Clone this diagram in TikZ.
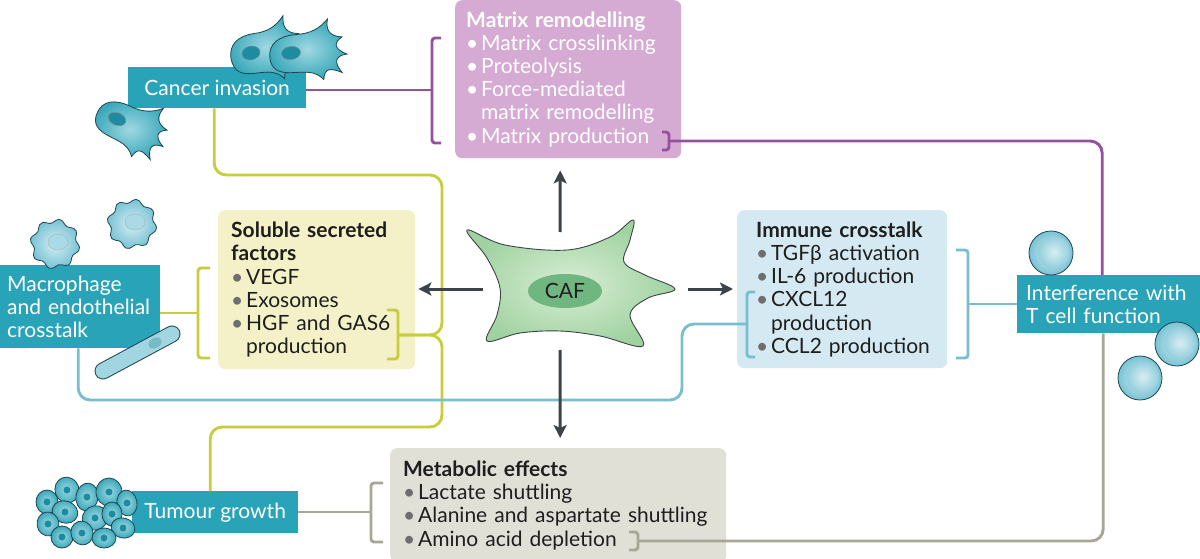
\documentclass[tikz,border=0pt]{standalone}
\usepackage{fontspec}
\setmainfont{Lato}
\usetikzlibrary{arrows.meta,shapes.geometric}

\definecolor{tealc}{RGB}{41,163,184}
\definecolor{mrfill}{RGB}{213,171,212}
\definecolor{mrline}{RGB}{150,80,160}
\definecolor{ssfill}{RGB}{244,241,200}
\definecolor{ssline}{RGB}{200,205,60}
\definecolor{icfill}{RGB}{212,233,241}
\definecolor{icline}{RGB}{120,190,206}
\definecolor{mefill}{RGB}{225,224,215}
\definecolor{meline}{RGB}{168,166,148}
\definecolor{arrcol}{RGB}{60,68,74}
\definecolor{textdark}{RGB}{30,30,30}
\definecolor{bulgray}{RGB}{110,110,110}
\definecolor{celledge}{RGB}{30,70,80}
\definecolor{cellin}{RGB}{160,216,226}
\definecolor{cellout}{RGB}{58,168,186}
\definecolor{nucc}{RGB}{30,140,160}
\definecolor{mphin}{RGB}{215,238,243}
\definecolor{mphout}{RGB}{120,195,212}
\definecolor{mphnuc}{RGB}{170,218,230}
\definecolor{cafin}{RGB}{216,238,213}
\definecolor{cafout}{RGB}{160,210,160}
\definecolor{cafnuc}{RGB}{112,182,128}
\colorlet{bulcol}{bulgray}

\newcommand{\itm}[1]{\mbox{\makebox[15pt][l]{\textcolor{bulcol}{\textbullet}}#1}}
\newcommand{\itmc}[1]{\mbox{\hspace*{15pt}#1}}
\newcommand{\hd}[1]{\mbox{\bfseries #1}}

\tikzset{
  txt/.style={font=\fontsize{21}{23.2}\selectfont},
  infobox/.style={txt, rounded corners=7pt, anchor=north west, align=left,
    inner ysep=0pt, text=textdark},
  tealbox/.style={txt, fill=tealc, text=white, anchor=north west, inner sep=0pt},
  link/.style={line width=2.9pt, rounded corners=12pt},
  brk/.style={line width=2.9pt, rounded corners=3pt},
  arr/.style={line width=3pt, arrcol, -{Stealth[length=13pt,width=13pt,inset=3pt]}},
  invcell/.pic={
    \shade[draw=celledge, line width=0.8pt, inner color=cellin, outer color=cellout]
      (-18,2) .. controls (-18,-11) and (-8,-17) .. (6,-16)
      .. controls (18,-15) and (26,-18) .. (34,-26)
      .. controls (31,-16) and (34,-10) .. (44,-8)
      .. controls (36,-4) and (36,2) .. (46,8)
      .. controls (36,8) and (34,14) .. (40,24)
      .. controls (30,18) and (26,18) .. (24,28)
      .. controls (18,19) and (10,19) .. (0,18)
      .. controls (-12,17) and (-18,13) .. (-18,2) -- cycle;
    \fill[nucc, draw=celledge!60, line width=0.5pt] (0,0) ellipse (8 and 6);
  }
}

\begin{document}
\begin{tikzpicture}[x=1pt, y=-1pt]
  \useasboundingbox (0,0) rectangle (1200,559);

  % boxes
  \node[infobox, fill=mrfill, text=white, text width=204, inner xsep=11, minimum height=158] (mr) at (455,0)
    {\colorlet{bulcol}{white}\hd{Matrix remodelling}\\ \itm{Matrix crosslinking}\\ \itm{Proteolysis}\\
     \itm{Force-mediated}\\ \itmc{matrix remodelling}\\ \itm{Matrix production}};
  \node[infobox, fill=ssfill, text width=171, inner xsep=13, minimum height=159] (ss) at (218,210)
    {\hd{Soluble secreted}\\ \hd{factors}\\ \itm{VEGF}\\ \itm{Exosomes}\\ \itm{HGF and GAS6}\\ \itmc{production}};
  \node[infobox, fill=icfill, text width=172, inner xsep=19, minimum height=158] (ic) at (737,210)
    {\hd{Immune crosstalk}\\ \itm{TGFβ activation}\\ \itm{IL-6 production}\\ \itm{CXCL12}\\
     \itmc{production}\\ \itm{CCL2 production}};
  \node[infobox, fill=mefill, text width=310, inner xsep=13, minimum height=114] (me) at (390,448)
    {\hd{Metabolic effects}\\ \itm{Lactate shuttling}\\ \itm{Alanine and aspartate shuttling}\\
     \itm{Amino acid depletion}};

  \node[tealbox, minimum width=178, minimum height=41] (ci) at (128,67) {Cancer invasion};
  \node[tealbox, text width=146, inner xsep=7, minimum height=83, align=left] (mac) at (0,265)
    {Macrophage\\ \mbox{and endothelial}\\ crosstalk};
  \node[tealbox, text width=170, inner xsep=9, minimum height=58, align=left] (tif) at (1017,275)
    {Interference with\\ T cell function};
  \node[tealbox, minimum width=166, minimum height=42] (tg) at (132,491) {Tumour growth};

  % brackets
  \draw[brk, mrline] (441,38) -- (432,38) -- (432,143) -- (441,143);
  \draw[brk, mrline] (662,132) -- (669,132) -- (669,150) -- (662,150);
  \draw[brk, ssline] (210,268) -- (198,268) -- (198,358) -- (210,358);
  \draw[brk, ssline] (387,310) -- (398,310) -- (398,359) -- (387,359);
  \draw[brk, icline] (755,292) -- (747,292) -- (747,357) -- (755,357);
  \draw[brk, icline] (956,250) -- (968,250) -- (968,358) -- (956,358);
  \draw[brk, meline] (383,483) -- (371,483) -- (371,542) -- (383,542);
  \draw[brk, meline] (629,532) -- (638,532) -- (638,550) -- (629,550);
  \coordinate (mrL) at (432,90);
  \coordinate (mrR) at (669,141);
  \coordinate (ssL) at (198,313);
  \coordinate (ssR) at (398,335);
  \coordinate (icL) at (747,324);
  \coordinate (icR) at (968,304);
  \coordinate (meL) at (371,512);
  \coordinate (meR) at (638,541);

  % connectors
  \draw[link, mrline] (ci.east |- mrL) -- (mrL);
  \draw[link, mrline] (mrR) -| ([xshift=-9pt]tif.north);
  \draw[link, ssline] ([xshift=-3pt]ci.south) |- (442,175) |- (ssR);
  \draw[link, ssline] (ssR) -| (442,427) -| ([xshift=-5pt]tg.north);
  \draw[link, ssline] (mac.east |- ssL) -- (ssL);
  \draw[link, icline] (icR) -- (tif.west |- icR);
  \draw[link, icline] (icL) -| (682,400) -| ([xshift=-2pt]mac.south);
  \draw[link, meline] (tg.east |- meL) -- (meL);
  \draw[link, meline] (meR) -| ([xshift=-8pt]tif.south);

  % CAF
  \shade[draw=arrcol, line width=0.9pt, inner color=cafin, outer color=cafout]
    plot[smooth cycle, tension=0.6] coordinates {(467,230) (505,245) (567,250) (610,237) (633,220)
      (630,240) (624,262) (645,275) (675,289) (648,298) (630,315) (643,346) (600,336) (560,331)
      (520,333) (487,341) (497,315) (500,288) (487,258)};
  \node[ellipse, fill=cafnuc, text=textdark, minimum width=74, minimum height=34, inner sep=0pt,
    font=\fontsize{21}{21}\selectfont] (caf) at (565,291) {CAF};
  \coordinate (cafU) at (560,232);
  \coordinate (cafL) at (483,289);
  \coordinate (cafR) at (688,289);
  \coordinate (cafD) at (560,350);
  \draw[arr] (cafU) -- ([xshift=-8pt,yshift=-12pt]mr.south);
  \draw[arr] (cafL) -- ([xshift=3pt]ss.east |- cafL);
  \draw[arr] (cafR) -- ([xshift=-4pt]ic.west |- cafR);
  \draw[arr] (cafD) -- ([xshift=2pt,yshift=10pt]me.north);

  % cancer cells
  \pic[rotate=12, scale=1.15] at (251,53) {invcell};
  \pic[rotate=8, xscale=1.2, yscale=1.1] at (291,53) {invcell};
  \pic[rotate=-22, xscale=1.15, yscale=1.05] at (117,119) {invcell};

  % macrophages and endothelial cell
  \foreach \cx/\cy in {55/244, 132/224} {
    \shade[draw=celledge, line width=0.8pt, inner color=mphin, outer color=mphout]
      plot[smooth cycle, samples=45, domain=0:352] ({\cx+(23+2*sin(8*\x))*cos(\x)}, {\cy+(23+2*sin(8*\x))*sin(\x)});
    \fill[mphnuc, draw=celledge!40] (\cx+3,\cy-2) ellipse (10 and 8);
  }
  \draw[line width=17pt, celledge, line cap=round] (103,371) -- (172,334);
  \draw[line width=15pt, mphout!70, line cap=round] (103,371) -- (172,334);
  \fill[nucc!60, rotate around={28:(155,343)}] (155,343) ellipse (7 and 5);

  % tumour cells
  \foreach \cx/\cy/\rx/\ry/\a in {67/490/12/13/20, 87/497/11/14/-10, 109/492/13/14/0, 127/503/10/13/10,
      47/502/11/12/0, 65/512/13/11/-20, 48/524/11/12/10, 95/518/13/12/30, 112/514/10/12/0,
      123/528/12/10/-15, 62/537/11/11/0, 82/533/11/12/20, 104/538/12/10/0} {
    \shade[draw=celledge, line width=0.8pt, inner color=cellin, outer color=cellout,
      rotate around={\a:(\cx,\cy)}] (\cx,\cy) ellipse (\rx pt and \ry pt);
    \fill[nucc] (\cx,\cy) circle (3.5);
  }

  % T cells
  \foreach \cx/\cy in {1051/253, 1177/344, 1140/378} {
    \shade[draw=celledge, line width=0.8pt, inner color=mphin, outer color=mphout] (\cx,\cy) circle (22);
    \shade[inner color=mphin, outer color=mphout!80] (\cx+3,\cy-1) circle (16);
  }
\end{tikzpicture}
\end{document}
